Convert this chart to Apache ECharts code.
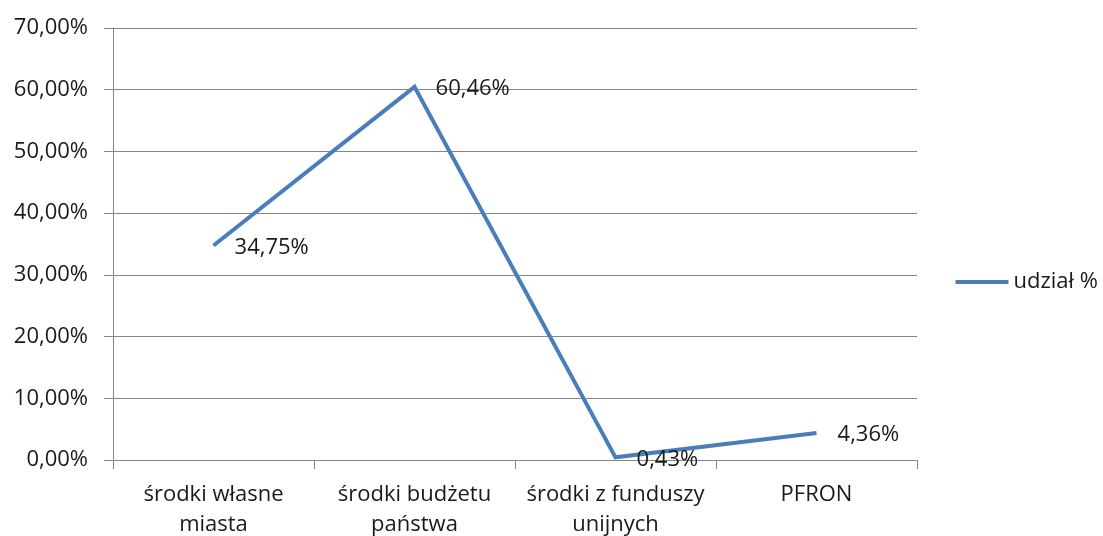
<!DOCTYPE html>
<html>
<head>
<meta charset="utf-8">
<script src="https://cdn.jsdelivr.net/npm/echarts@6/dist/echarts.min.js"></script>
<style>
html,body{margin:0;padding:0;background:#fff}
#main{width:1103px;height:536px}
</style>
</head>
<body>
<div id="main"></div>
<script>
var categories = ['środki własne\nmiasta', 'środki budżetu\npaństwa', 'środki z funduszy\nunijnych', 'PFRON'];
var udzial = [34.75, 60.46, 0.43, 4.36];
var seriesName = 'udział %';

function pl(v) {
    return v.toFixed(2).replace('.', ',') + '%';
}

var myChart = echarts.init(document.getElementById('main'));
var font = 'Open Sans';
var fs = 22;
var option = {
    backgroundColor: '#fff',
    textStyle: { fontFamily: font },
    grid: { left: 113, right: 186, top: 28, bottom: 76, outerBoundsMode: 'none', containLabel: false },
    legend: {
        data: [seriesName],
        right: 0,
        top: 266,
        orient: 'vertical',
        icon: 'rect',
        itemWidth: 53,
        itemHeight: 4,
        textStyle: { fontFamily: font, fontSize: fs, color: '#1a1a1a' }
    },
    xAxis: {
        type: 'category',
        data: categories,
        boundaryGap: true,
        axisLine: { lineStyle: { color: '#868686', width: 1 } },
        axisTick: { show: true, length: 9, lineStyle: { color: '#868686' } },
        axisLabel: { fontFamily: font, fontSize: fs, color: '#1a1a1a', lineHeight: 30, margin: 20, interval: 0 }
    },
    yAxis: {
        type: 'value',
        min: 0,
        max: 70,
        interval: 10,
        axisLine: { show: true, lineStyle: { color: '#868686' } },
        axisTick: { show: true, length: 9, lineStyle: { color: '#868686' } },
        splitLine: { lineStyle: { color: '#868686' } },
        axisLabel: {
            fontFamily: font, fontSize: fs, color: '#1a1a1a', margin: 25,
            formatter: function (v) { return pl(v); }
        }
    },
    series: [{
        name: seriesName,
        type: 'line',
        data: udzial,
        showSymbol: true,
        symbol: 'circle',
        symbolSize: 0.1,
        lineStyle: { color: '#4a7ebb', width: 4, join: 'miter' },
        itemStyle: { color: '#4a7ebb' },
        label: {
            show: true,
            position: 'right',
            distance: 21,
            offset: [0, 2],
            fontFamily: font,
            fontSize: fs,
            color: '#1a1a1a',
            formatter: function (p) { return pl(p.value); }
        }
    }]
};
myChart.setOption(option);
</script>
</body>
</html>
